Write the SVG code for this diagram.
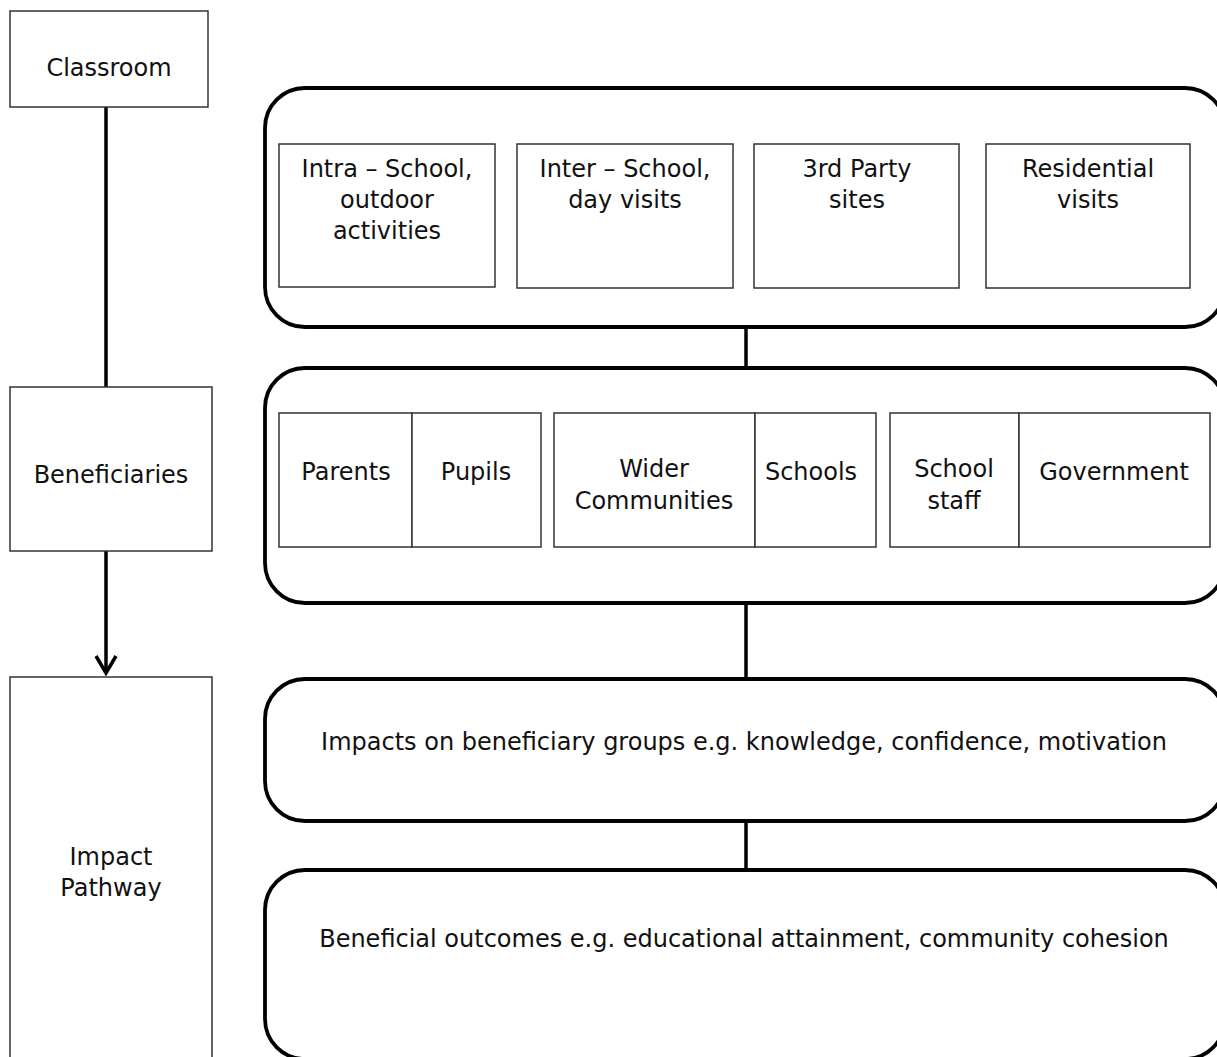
<svg xmlns="http://www.w3.org/2000/svg" width="1217" height="1057" viewBox="0 0 1217 1057">
<defs>
<style>
.side{fill:#fff;stroke:#333;stroke-width:1.5}
.inner{fill:#fff;stroke:#333;stroke-width:1.5}
.cont{fill:#fff;stroke:#000;stroke-width:3.8}
.conn{fill:none;stroke:#000;stroke-width:3.5}
text{font-family:"DejaVu Sans","Liberation Sans",sans-serif;font-size:24px;fill:#111;text-anchor:middle}
</style>
<marker id="chev" markerWidth="24" markerHeight="24" refX="20" refY="12" orient="auto" markerUnits="userSpaceOnUse" viewBox="0 0 24 24">
<path d="M3 2 L20 12 L3 22" fill="none" stroke="#000" stroke-width="3.5"/>
</marker>
</defs>
<rect width="1217" height="1057" fill="#fff"/>
<g id="connectors">
<line class="conn" x1="106" y1="107" x2="106" y2="387"/>
<line class="conn" x1="106" y1="551" x2="106" y2="673" marker-end="url(#chev)"/>
<line class="conn" x1="746" y1="327" x2="746" y2="368"/>
<line class="conn" x1="746" y1="603" x2="746" y2="679"/>
<line class="conn" x1="746" y1="821" x2="746" y2="870"/>
</g>
<g id="classroom">
<rect class="side" x="10" y="11" width="198" height="96"/>
<text x="109" y="76">Classroom</text>
</g>
<g id="beneficiaries">
<rect class="side" x="10" y="387" width="202" height="164"/>
<text x="111" y="483">Beneficiaries</text>
</g>
<g id="impact-pathway">
<rect class="side" x="10" y="677" width="202" height="400"/>
<text x="111" y="865">Impact</text>
<text x="111" y="896">Pathway</text>
</g>
<g id="activities">
<rect class="cont" x="265" y="88" width="960" height="239" rx="40" ry="40"/>
<g id="intra-school">
<rect class="inner" x="279" y="144" width="216" height="143"/>
<text x="387" y="177">Intra – School,</text>
<text x="387" y="208">outdoor</text>
<text x="387" y="239">activities</text>
</g>
<g id="inter-school">
<rect class="inner" x="517" y="144" width="216" height="144"/>
<text x="625" y="177">Inter – School,</text>
<text x="625" y="208">day visits</text>
</g>
<g id="third-party">
<rect class="inner" x="754" y="144" width="205" height="144"/>
<text x="857" y="177">3rd Party</text>
<text x="857" y="208">sites</text>
</g>
<g id="residential">
<rect class="inner" x="986" y="144" width="204" height="144"/>
<text x="1088" y="177">Residential</text>
<text x="1088" y="208">visits</text>
</g>
</g>
<g id="beneficiary-groups">
<rect class="cont" x="265" y="368" width="960" height="235" rx="40" ry="40"/>
<g id="parents">
<rect class="inner" x="279" y="413" width="133" height="134"/>
<text x="346" y="480">Parents</text>
</g>
<g id="pupils">
<rect class="inner" x="412" y="413" width="129" height="134"/>
<text x="476" y="480">Pupils</text>
</g>
<g id="wider-communities">
<rect class="inner" x="554" y="413" width="201" height="134"/>
<text x="654" y="477">Wider</text>
<text x="654" y="509">Communities</text>
</g>
<g id="schools">
<rect class="inner" x="755" y="413" width="121" height="134"/>
<text x="811" y="480">Schools</text>
</g>
<g id="school-staff">
<rect class="inner" x="890" y="413" width="129" height="134"/>
<text x="954" y="477">School</text>
<text x="954" y="509">staff</text>
</g>
<g id="government">
<rect class="inner" x="1019" y="413" width="191" height="134"/>
<text x="1114" y="480">Government</text>
</g>
</g>
<g id="impacts">
<rect class="cont" x="265" y="679" width="960" height="142" rx="40" ry="40"/>
<text x="744" y="750">Impacts on beneficiary groups e.g. knowledge, confidence, motivation</text>
</g>
<g id="outcomes">
<rect class="cont" x="265" y="870" width="960" height="189" rx="40" ry="40"/>
<text x="744" y="947">Beneficial outcomes e.g. educational attainment, community cohesion</text>
</g>
</svg>
